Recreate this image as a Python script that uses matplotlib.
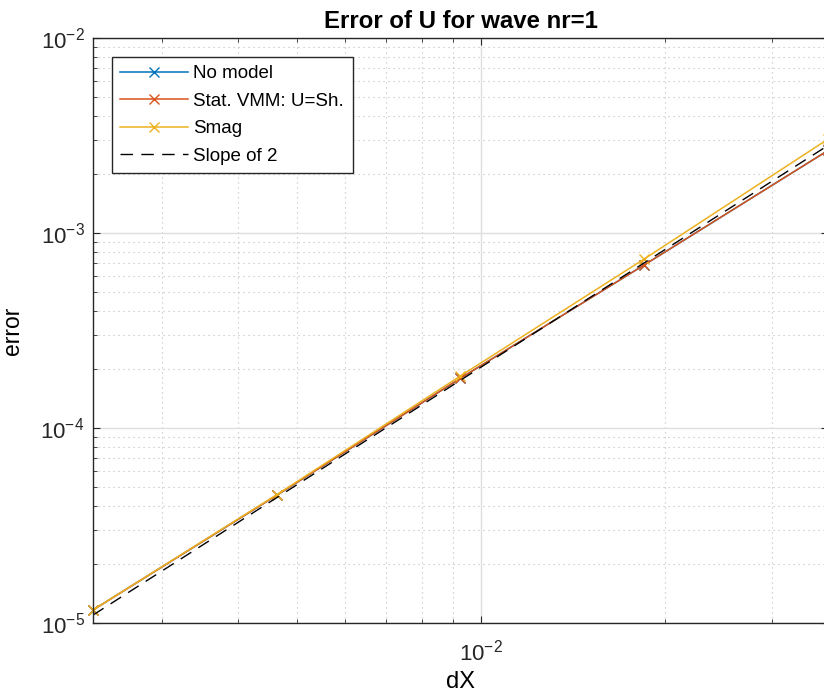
import matplotlib.pyplot as plt
import numpy as np
import matplotlib

matplotlib.rcParams['font.family'] = ['Liberation Sans', 'DejaVu Sans']
matplotlib.rcParams['mathtext.fontset'] = 'custom'
matplotlib.rcParams['mathtext.rm'] = 'Liberation Sans'

# Data: grid spacing and error of U
dX = np.array([1/432, 1/216, 1/108, 1/54, 1/27])
err_nomodel = [1.166e-5, 4.52e-5, 1.80e-4, 6.86e-4, 2.65e-3]
err_vmm = [1.166e-5, 4.52e-5, 1.80e-4, 6.86e-4, 2.65e-3]
err_smag = [1.166e-5, 4.55e-5, 1.85e-4, 7.36e-4, 3.03e-3]
slope_coef = 2.05  # reference line C*dX^2

labels = ['No model', 'Stat. VMM: U=Sh.', 'Smag', 'Slope of 2']
colors = ['#0072BD', '#D95319', '#EDB120']

fig = plt.figure(figsize=(8.24, 6.98), dpi=100)
ax = fig.add_axes([93/824, 75/698, 735/824, 585/698])

ax.loglog(dX, err_nomodel, '-x', color=colors[0], lw=1.1, ms=7, label=labels[0], clip_on=False)
ax.loglog(dX, err_vmm, '-x', color=colors[1], lw=1.1, ms=7, label=labels[1], clip_on=False)
ax.loglog(dX, err_smag, '-x', color=colors[2], lw=1.1, ms=7, label=labels[2], clip_on=False)
ax.loglog(dX, slope_coef * dX**2, '--', color='black', lw=1.0, dashes=(9, 6), label=labels[3])

ax.set_xlim(dX[0], dX[-1])
ax.set_ylim(1e-5, 1e-2)

ax.set_title('Error of U for wave nr=1', fontsize=17.3, fontweight='bold', pad=7)
ax.set_xlabel('dX', fontsize=17, labelpad=4)
ax.set_ylabel('error', fontsize=16.5, labelpad=12)

# MATLAB-like grid and ticks
ax.grid(True, which='major', color='#dedede', linestyle='-', lw=1.0)
ax.grid(True, which='minor', color='#bcbcbc', linestyle=(0, (1, 3.5)), lw=0.8)
ax.set_axisbelow(True)
ax.tick_params(which='both', direction='in', top=True, right=True, colors='#262626', labelsize=16)
ax.tick_params(which='major', length=5)
ax.tick_params(which='minor', length=3)
ax.tick_params(axis='x', pad=12)
ax.tick_params(axis='y', pad=6)
for s in ax.spines.values():
    s.set_color('#262626')
    s.set_linewidth(1.0)

leg = ax.legend(loc='upper left', fontsize=13.5, fancybox=False, framealpha=1,
                edgecolor='#262626', handlelength=3.6, handletextpad=0.3,
                labelspacing=0.55, borderaxespad=1.0, borderpad=0.45)
leg.get_frame().set_linewidth(1.0)

plt.savefig('out.png', dpi=100)
